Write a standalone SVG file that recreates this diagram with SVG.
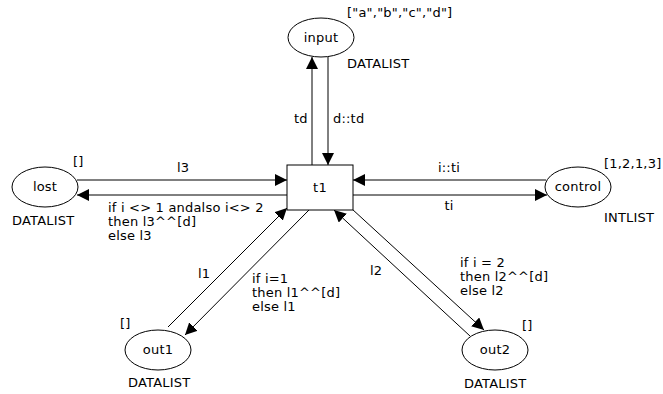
<svg xmlns="http://www.w3.org/2000/svg" width="663" height="394" viewBox="0 0 663 394">
  <style>
    text { font-family: "DejaVu Sans", Verdana, sans-serif; font-size: 13px; letter-spacing: 0.2px; fill: #000; }
    .mid { text-anchor: middle; }
    .place { fill: #fff; stroke: #000; stroke-width: 1; }
    .trans { fill: #fff; stroke: #000; stroke-width: 1; }
    .arc { stroke: #000; stroke-width: 1; fill: none; marker-end: url(#head); }
  </style>
  <defs>
    <marker id="head" viewBox="0 0 12 12" refX="12" refY="6" markerWidth="12" markerHeight="12" markerUnits="userSpaceOnUse" orient="auto">
      <path d="M0,0 L12,6 L0,12 Z" fill="#000"/>
    </marker>
  </defs>
  <rect width="663" height="394" fill="#fff"/>

  <g id="connectors">
    <!-- input <-> t1 -->
    <line class="arc" x1="312" y1="165" x2="312" y2="57"/>
    <line class="arc" x1="328" y1="57" x2="328" y2="165"/>
    <!-- lost <-> t1 -->
    <line class="arc" x1="77" y1="180" x2="287" y2="180"/>
    <line class="arc" x1="287" y1="195" x2="77" y2="195"/>
    <!-- control <-> t1 -->
    <line class="arc" x1="546" y1="180" x2="353" y2="180"/>
    <line class="arc" x1="353" y1="195" x2="547" y2="195"/>
    <!-- out1 <-> t1 -->
    <line class="arc" x1="168" y1="327" x2="287" y2="208"/>
    <line class="arc" x1="309" y1="210" x2="185" y2="335"/>
    <!-- out2 <-> t1 -->
    <line class="arc" x1="470" y1="336" x2="334" y2="210"/>
    <line class="arc" x1="352" y1="209" x2="484" y2="330"/>

    <text x="294" y="123">td</text>
    <text x="333" y="123">d::td</text>
    <text x="177" y="172">l3</text>
    <text x="108" y="212">if i &lt;&gt; 1 andalso i&lt;&gt; 2</text>
    <text x="108" y="226">then l3^^[d]</text>
    <text x="108" y="240">else l3</text>
    <text x="449" y="172" class="mid">i::ti</text>
    <text x="449" y="210" class="mid">ti</text>
    <text x="198" y="278">l1</text>
    <text x="252" y="283">if i=1</text>
    <text x="252" y="297">then l1^^[d]</text>
    <text x="252" y="311">else l1</text>
    <text x="370" y="275">l2</text>
    <text x="460" y="267">if i = 2</text>
    <text x="460" y="281">then l2^^[d]</text>
    <text x="460" y="295">else l2</text>
  </g>

  <g id="t1">
    <rect class="trans" x="287" y="165" width="66" height="45"/>
    <text x="320" y="192" class="mid">t1</text>
  </g>

  <g id="input">
    <ellipse class="place" cx="321" cy="37.5" rx="33" ry="19.5"/>
    <text x="321" y="42" class="mid">input</text>
    <text x="347" y="17">["a","b","c","d"]</text>
    <text x="347" y="68">DATALIST</text>
  </g>

  <g id="lost">
    <ellipse class="place" cx="45" cy="187" rx="33" ry="20"/>
    <text x="45" y="191" class="mid">lost</text>
    <text x="73" y="166">[]</text>
    <text x="12" y="225">DATALIST</text>
  </g>

  <g id="control">
    <ellipse class="place" cx="578" cy="187" rx="33" ry="20"/>
    <text x="578" y="191" class="mid">control</text>
    <text x="604" y="168">[1,2,1,3]</text>
    <text x="604" y="222">INTLIST</text>
  </g>

  <g id="out1">
    <ellipse class="place" cx="158" cy="350" rx="33" ry="20"/>
    <text x="158" y="354" class="mid">out1</text>
    <text x="120" y="328">[]</text>
    <text x="128" y="387">DATALIST</text>
  </g>

  <g id="out2">
    <ellipse class="place" cx="495" cy="350" rx="33" ry="20"/>
    <text x="495" y="354" class="mid">out2</text>
    <text x="522" y="330">[]</text>
    <text x="464" y="388">DATALIST</text>
  </g>
</svg>
